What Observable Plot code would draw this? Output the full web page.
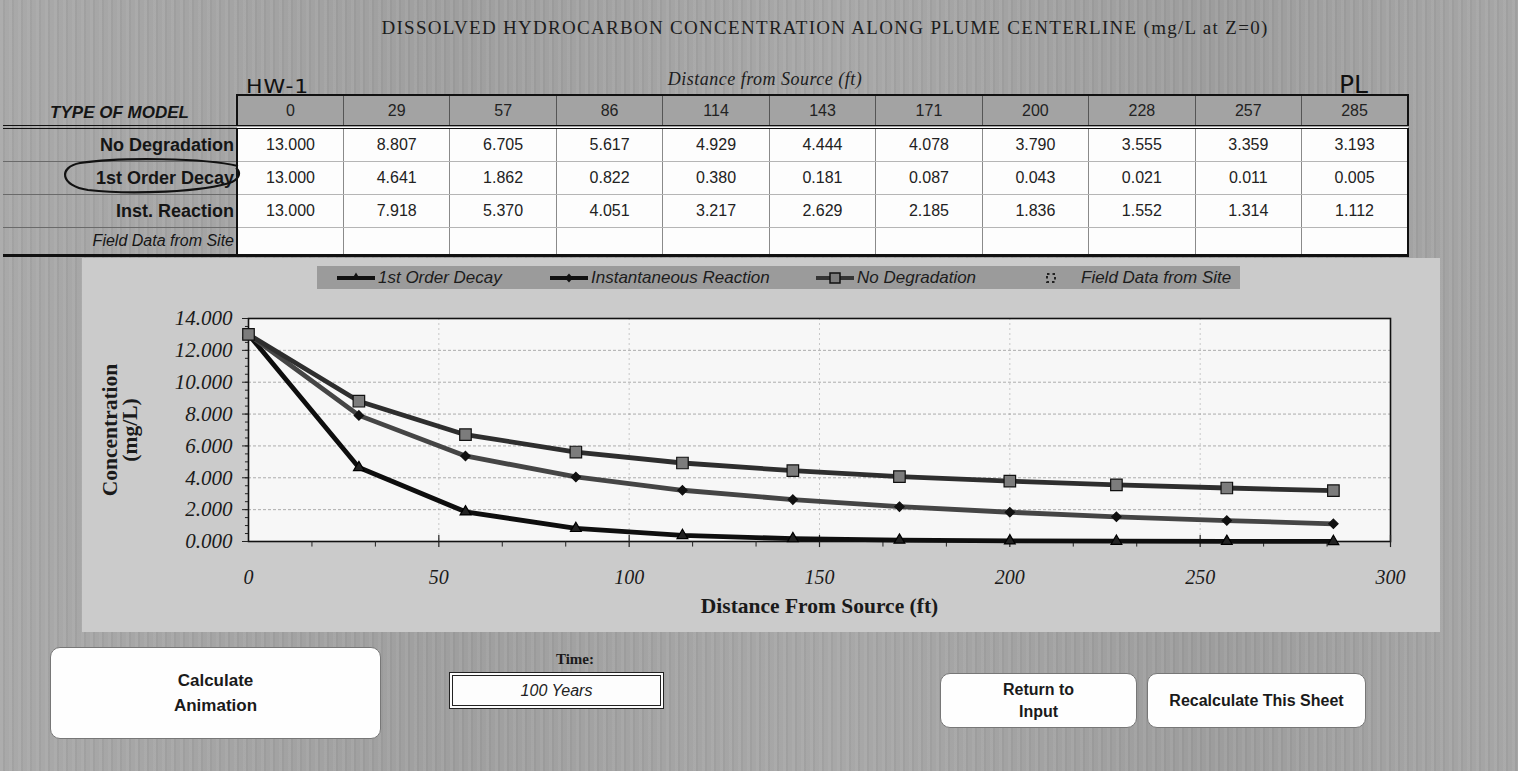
<!DOCTYPE html>
<html>
<head>
<meta charset="utf-8">
<script src="https://cdn.jsdelivr.net/npm/d3@7"></script>
<script src="https://cdn.jsdelivr.net/npm/@observablehq/plot@0.6"></script>
<style>
  html, body { margin: 0; padding: 0; }
  body {
    width: 1518px; height: 771px; overflow: hidden; position: relative;
    font-family: "Liberation Sans", Arial, sans-serif; color: #1a1a1a;
    background:
      repeating-linear-gradient(90deg, rgba(255,255,255,0.05) 0 3px, rgba(0,0,0,0.04) 3px 5px, rgba(255,255,255,0) 5px 9px),
      linear-gradient(90deg, #a9a9a9 0%, #9f9f9f 30%, #a8a8a8 55%, #9d9d9d 80%, #a6a6a6 100%);
  }
  .abs { position: absolute; }
  #title {
    left: 0; width: 1650px; top: 17px; text-align: center;
    font-family: "Liberation Serif", "Times New Roman", serif; font-size: 19px; color: #1c1c1c; letter-spacing: 1.3px;
  }
  #subhead {
    left: 0; width: 1530px; top: 69px; text-align: center;
    font-family: "Liberation Serif", serif; font-style: italic; font-size: 18px; letter-spacing: 0.5px; color: #1c1c1c;
  }
  .hand { font-family: "DejaVu Sans", sans-serif; color: #111; }
  #tbl {
    position: absolute; left: 3px; top: 94px; border-collapse: collapse; table-layout: fixed; width: 1406px;
  }
  #tbl th {
    height: 29px; padding: 0; font-weight: normal; font-size: 16px; color: #222; background: #a3a3a3;
    border-left: 1px solid #555; border-top: 2px solid #111; border-bottom: 4px double #111;
  }
  #tbl th.tm {
    background: transparent; border-top: none; border-left: none; border-right: 2px solid #111;
    font-weight: bold; font-style: italic; font-size: 17px; color: #151515;
  }
  #tbl th.tm span { position: relative; top: 3px; }
  #tbl th.last, #tbl td.last { border-right: 2px solid #111; }
  #tbl td {
    height: 32px; padding: 0; text-align: center; background: #fdfdfd; font-size: 16px; color: #222;
    border-left: 1px solid #8a8a8a; border-bottom: 1px solid #b5b5b5;
  }
  #tbl td.lab {
    background: transparent; text-align: right; padding-right: 2px; border-left: none;
    border-right: 2px solid #111; border-bottom: 1px solid #6a6a6a;
    font-weight: bold; font-size: 18px; color: #151515; white-space: nowrap;
  }
  #tbl tr.field td { height: 26px; border-bottom: 3px solid #111; }
  #tbl tr.field td.lab { font-weight: normal; font-style: italic; font-size: 16px; }
  #panel { left: 82px; top: 258px; width: 1358px; height: 374px; background: #cbcbcb; }
  #legend {
    left: 317px; top: 266px; width: 923px; height: 23px; background: #9b9b9b;
    font-style: italic; font-size: 17px; color: #1c1c1c;
  }
  .lg { position: absolute; top: 0; height: 23px; display: flex; align-items: center; white-space: nowrap; }
  .lg svg { display: block; }
  #chart { left: 82px; top: 298px; }
  .btn {
    background: #fefefe; border: 1px solid #777; border-radius: 10px; display: flex; align-items: center;
    justify-content: center; text-align: center; font-weight: bold; color: #1a1a1a; box-sizing: border-box;
  }
  #timeLabel { left: 530px; width: 90px; top: 651px; text-align: center; font-family: "Liberation Serif", serif; font-weight: bold; font-size: 15px; }
  #timeBox {
    left: 449px; top: 672px; width: 215px; height: 37px; box-sizing: border-box; border: 4px double #222; background: #fdfdfd;
    display: flex; align-items: center; justify-content: center; font-style: italic; font-size: 16px; color: #222;
  }
</style>
</head>
<body>
<script>
// Plume centerline concentrations (mg/L) at each distance from the source (ft)
const distances = [0, 29, 57, 86, 114, 143, 171, 200, 228, 257, 285];
const noDegradation = [13.000, 8.807, 6.705, 5.617, 4.929, 4.444, 4.078, 3.790, 3.555, 3.359, 3.193];
const firstOrderDecay = [13.000, 4.641, 1.862, 0.822, 0.380, 0.181, 0.087, 0.043, 0.021, 0.011, 0.005];
const instReaction = [13.000, 7.918, 5.370, 4.051, 3.217, 2.629, 2.185, 1.836, 1.552, 1.314, 1.112];
const fieldData = [];  // no site measurements entered
const rowLabels = ["No Degradation", "1st Order Decay", "Inst. Reaction", "Field Data from Site"];
const legendLabels = ["1st Order Decay", "Instantaneous Reaction", "No Degradation", "Field Data from Site"];
const xTicks = [0, 50, 100, 150, 200, 250, 300];
const yTicks = [0, 2, 4, 6, 8, 10, 12, 14];
const simulationTime = "100  Years";
</script>

<div id="title" class="abs">DISSOLVED HYDROCARBON CONCENTRATION ALONG PLUME CENTERLINE (mg/L at Z=0)</div>
<div id="subhead" class="abs">Distance from Source (ft)</div>
<div class="abs hand" style="left:246px;top:74px;font-size:22px;transform:scaleY(0.9);letter-spacing:1px;">HW-1</div>
<div class="abs hand" style="left:1339px;top:70px;font-size:25px;">PL</div>

<table id="tbl"></table>

<svg class="abs" style="left:0;top:0;overflow:visible" width="1518" height="300">
  <path d="M238,166 C205,158 120,157 80,163 C58,167 60,186 88,190 C130,195 205,192 232,182 C240,178 241,172 236,168"
        fill="none" stroke="#111" stroke-width="2.2"/>
</svg>

<div id="panel" class="abs"></div>
<div id="legend" class="abs"></div>
<div id="chart" class="abs"></div>

<div class="abs btn" style="left:50px;top:647px;width:331px;height:92px;font-size:17px;line-height:25px;">Calculate<br>Animation</div>
<div id="timeLabel" class="abs">Time:</div>
<div id="timeBox" class="abs"></div>
<div class="abs btn" style="left:940px;top:673px;width:197px;height:55px;font-size:16px;line-height:22px;">Return to<br>Input</div>
<div class="abs btn" style="left:1147px;top:673px;width:219px;height:55px;font-size:16px;">Recalculate This Sheet</div>

<script>
document.getElementById("timeBox").textContent = simulationTime;

// ---- data table ----
const tbl = document.getElementById("tbl");
const fmt3 = d3.format(".3f");
let html = '<colgroup><col style="width:234px">' + distances.map(() => '<col>').join("") + '</colgroup>';
html += '<tr><th class="tm"><span>TYPE OF MODEL</span></th>' +
  distances.map((d, i) => `<th class="${i === distances.length - 1 ? "last" : ""}">${d}</th>`).join("") + '</tr>';
const rows = [noDegradation, firstOrderDecay, instReaction, fieldData];
rows.forEach((vals, r) => {
  html += `<tr class="${r === 3 ? "field" : ""}"><td class="lab">${rowLabels[r]}</td>` +
    distances.map((d, i) => `<td class="${i === distances.length - 1 ? "last" : ""}">${vals[i] !== undefined ? fmt3(vals[i]) : ""}</td>`).join("") +
    '</tr>';
});
tbl.innerHTML = html;

// ---- series styling ----
const series = [
  {name: "1st Order Decay", values: firstOrderDecay, stroke: "#0e0e0e", symbol: "triangle", r: 4, fill: "#222", dotStroke: "#000"},
  {name: "Instantaneous Reaction", values: instReaction, stroke: "#454545", symbol: "diamond2", r: 4.2, fill: "#111", dotStroke: "#111"},
  {name: "No Degradation", values: noDegradation, stroke: "#2e2e2e", symbol: "square", r: 6.5, fill: "#7c7c7c", dotStroke: "#111"}
];
const long = series.flatMap(s => distances.map((d, i) => ({series: s.name, distance: d, value: s.values[i]})));

// ---- legend ----
const legend = document.getElementById("legend");
const legendX = [20, 233, 499, 715];
const swatch = (kind) => {
  const marker = {
    "1st Order Decay": '<path d="M19,5.5 L23.5,13 L14.5,13 Z" fill="#111"/>',
    "Instantaneous Reaction": '<path d="M19,6.5 L23,11 L19,15.5 L15,11 Z" fill="#111"/>',
    "No Degradation": '<rect x="14" y="6" width="10" height="10" fill="#7c7c7c" stroke="#111" stroke-width="1.5"/>',
    "Field Data from Site": '<rect x="15" y="7" width="8" height="8" fill="none" stroke="#222" stroke-width="2" stroke-dasharray="2.5,3"/>'
  }[kind];
  const line = kind === "Field Data from Site" ? "" :
    `<line x1="0" x2="38" y1="11" y2="11" stroke="${kind === "No Degradation" ? "#353535" : "#111"}" stroke-width="4"/>`;
  return `<svg width="40" height="22">${line}${marker}</svg>`;
};
legendLabels.forEach((lab, i) => {
  const el = document.createElement("div");
  el.className = "lg";
  el.style.left = legendX[i] + "px";
  el.innerHTML = swatch(lab) + `<span style="margin-left:${i === 3 ? 9 : 1}px">${lab}</span>`;
  legend.appendChild(el);
});

// ---- chart ----
const minorX = d3.range(1, 18).map(k => k * 50 / 3).filter(v => Math.abs(v / 50 - Math.round(v / 50)) > 1e-6);
const minorY = d3.range(0, 14.001, 0.5);
const majorX = xTicks.slice(1);

const chart = Plot.plot({
  width: 1358,
  height: 334,
  marginLeft: 166,
  marginRight: 50,
  marginTop: 20,
  marginBottom: 91,
  x: {domain: [0, 300]},
  y: {domain: [0, 14]},
  style: {fontFamily: "'Liberation Serif', 'Times New Roman', serif", color: "#1a1a1a", background: "transparent", overflow: "visible"},
  marks: [
    Plot.frame({fill: "#f7f7f7", stroke: null}),
    Plot.gridY(yTicks.slice(1, -1), {stroke: "#6f6f6f", strokeOpacity: 0.55, strokeDasharray: "3,2"}),
    Plot.gridX(majorX.slice(0, -1), {stroke: "#8f8f8f", strokeOpacity: 0.45, strokeDasharray: "2,3"}),
    Plot.frame({stroke: "#111", strokeWidth: 1.6}),
    // minor tick marks
    Plot.ruleY(minorY, {x1: -0.8, x2: 0, stroke: "#222", strokeWidth: 1}),
    Plot.ruleX(minorX, {y1: -0.35, y2: 0, stroke: "#222", strokeWidth: 1}),
    Plot.ruleX(majorX, {y1: -0.38, y2: 0.38, stroke: "#222", strokeWidth: 1.2}),
    Plot.axisY(yTicks, {tickSize: 6, tickPadding: 10, tickFormat: fmt3, fontSize: 21, fontStyle: "italic", label: null, stroke: "#222"}),
    Plot.axisX(xTicks, {tickSize: 0, tickPadding: 28, tickFormat: d => d, fontSize: 20, fontStyle: "italic", label: null}),
    // axis titles
    Plot.text(["Distance From Source (ft)"], {frameAnchor: "bottom", dy: 71, fontSize: 21.5, fontWeight: "bold", fill: "#1a1a1a"}),
    Plot.text(["Concentration\n(mg/L)"], {frameAnchor: "left", textAnchor: "middle", dx: -128, rotate: -90, fontSize: 21.5, fontWeight: "bold", fill: "#1a1a1a", lineHeight: 0.95}),
    // series
    ...series.map(s => Plot.line(long.filter(d => d.series === s.name), {x: "distance", y: "value", stroke: s.stroke, strokeWidth: 4.8})),
    ...series.map(s => Plot.dot(long.filter(d => d.series === s.name), {x: "distance", y: "value", symbol: s.symbol, r: s.r, fill: s.fill, stroke: s.dotStroke, strokeWidth: 1.2}))
  ]
});
document.getElementById("chart").appendChild(chart);
</script>
</body>
</html>
